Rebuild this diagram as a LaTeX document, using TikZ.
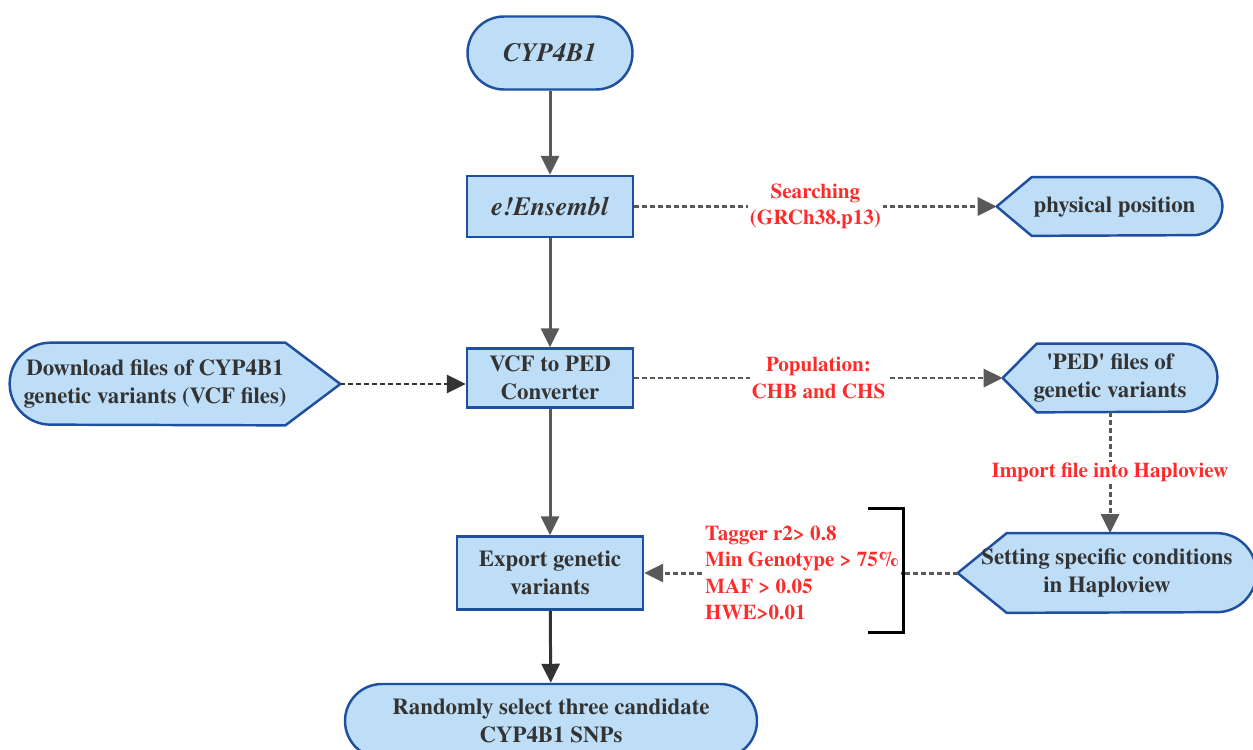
\documentclass[tikz,border=0pt]{standalone}
\usepackage{fontspec}
\setmainfont{texgyretermes}[Extension=.otf, UprightFont=*-regular, BoldFont=*-bold, ItalicFont=*-italic, BoldItalicFont=*-bolditalic]
\usetikzlibrary{arrows.meta,calc,backgrounds}

\definecolor{boxfill}{HTML}{BEDEF7}
\definecolor{boxline}{HTML}{1F4FA0}
\definecolor{txt}{HTML}{333333}
\definecolor{lbl}{HTML}{FF2B2B}
\definecolor{flow}{HTML}{595959}
\definecolor{darkflow}{HTML}{333333}

\begin{document}
\begin{tikzpicture}[
	box/.style={draw=boxline, fill=boxfill, line width=1.4pt, text=txt, align=center, inner sep=0pt,
		font=\fontsize{13}{16}\selectfont\bfseries},
	term/.style={box, rounded corners=0.73cm},
	disp/.style={text=txt, align=center, inner sep=0pt, font=\fontsize{13}{16}\selectfont\bfseries},
	displine/.style={draw=boxline, fill=boxfill, line width=1.4pt, line join=round},
	flowline/.style={-{Triangle[length=0.38cm,width=0.36cm]}, draw=flow, line width=1.7pt},
	dotline/.style={-{Triangle[length=0.38cm,width=0.36cm]}, draw=flow, line width=1.7pt, dash pattern=on 0.09cm off 0.07cm},
	note/.style={text=lbl, fill=white, align=center, inner sep=1pt, font=\fontsize{12}{15}\selectfont\bfseries}
	]
	\useasboundingbox (0, 0) rectangle (25.06, -14.98);

	\node[term, minimum width=3.3cm, minimum height=1.46cm, font=\fontsize{15}{18}\selectfont\bfseries\itshape] (Gene) at (11.0, -1.06) {CYP4B1};
	\node[box, minimum width=3.32cm, minimum height=1.22cm, font=\fontsize{15}{18}\selectfont\bfseries\itshape] (Ensembl) at (11.0, -4.13) {e!Ensembl};
	\node[box, minimum width=3.32cm, minimum height=1.18cm] (Converter) at (11.0, -7.56) {VCF to PED\\Converter};
	\node[box, minimum width=3.72cm, minimum height=1.46cm] (Export) at (11.0, -11.46) {Export genetic\\variants};
	\node[term, minimum width=8.24cm, minimum height=1.48cm, rounded corners=0.74cm] (Select) at (11.02, -14.42) {Randomly select three candidate\\CYP4B1 SNPs};

	\node[disp, minimum width=4.5cm, minimum height=1.16cm] (Position) at (22.19, -4.13) {\kern0.2cm physical position};
	\node[disp, minimum width=6.6cm, minimum height=1.64cm] (Download) at (3.5, -7.68) {Download files of CYP4B1\kern0.8cm\\genetic variants (VCF files)\kern0.8cm};
	\node[disp, minimum width=4.28cm, minimum height=1.36cm] (PED) at (22.2, -7.56) {\textquotesingle PED\textquotesingle{} files of\\genetic variants};
	\node[disp, minimum width=5.96cm, minimum height=1.58cm] (Setting) at (22.14, -11.46) {Setting specific conditions\\in Haploview};

	% display shapes behind the texts
	\begin{scope}[on background layer]
		\path[displine] (Position.west) -- ($(Position.north west)+(0.7,0)$) -- ($(Position.north east)+(-0.58,0)$)
			arc[start angle=90, end angle=-90, radius=0.58cm] -- ($(Position.south west)+(0.7,0)$) -- cycle;
		\path[displine] (PED.west) -- ($(PED.north west)+(0.68,0)$) -- ($(PED.north east)+(-0.68,0)$)
			arc[start angle=90, end angle=-90, radius=0.68cm] -- ($(PED.south west)+(0.68,0)$) -- cycle;
		\path[displine] (Setting.west) -- ($(Setting.north west)+(0.98,0)$) -- ($(Setting.north east)+(-0.79,0)$)
			arc[start angle=90, end angle=-90, radius=0.79cm] -- ($(Setting.south west)+(0.98,0)$) -- cycle;
		\path[displine] (Download.east) -- ($(Download.north east)+(-1.1,0)$) -- ($(Download.north west)+(0.82,0)$)
			arc[start angle=90, end angle=270, radius=0.82cm] -- ($(Download.south east)+(-1.1,0)$) -- cycle;
	\end{scope}

	\draw[flowline] (Gene)      -- (Ensembl);
	\draw[flowline] (Ensembl)   -- (Converter);
	\draw[flowline] (Converter) -- (Export);
	\draw[flowline, draw=darkflow] (Export) -- (Select);

	\draw[dotline] (Ensembl)   -- (Position) node[note, midway] {Searching\\(GRCh38.p13)};
	\draw[dotline, draw=darkflow] (Download.east) -- (Download.east -| Converter.west);
	\draw[dotline] (Converter) -- (PED) node[note, midway] {Population:\\CHB and CHS};
	\draw[dotline] (PED.south) -- (PED.south |- Setting.north) node[note, midway] {Import file into Haploview};
	\draw[dotline] (Setting.west) -- (Setting.west -| Export.east);

	\node[note, align=left, anchor=west] (Cond) at (14.06, -11.46) {Tagger r2> 0.8\\Min Genotype > 75\%\\MAF > 0.05\\HWE>0.01};
	\draw[line width=1.7pt] (17.36, -10.16) -- (18.06, -10.16) -- (18.06, -12.64) -- (17.36, -12.64);
\end{tikzpicture}
\end{document}
